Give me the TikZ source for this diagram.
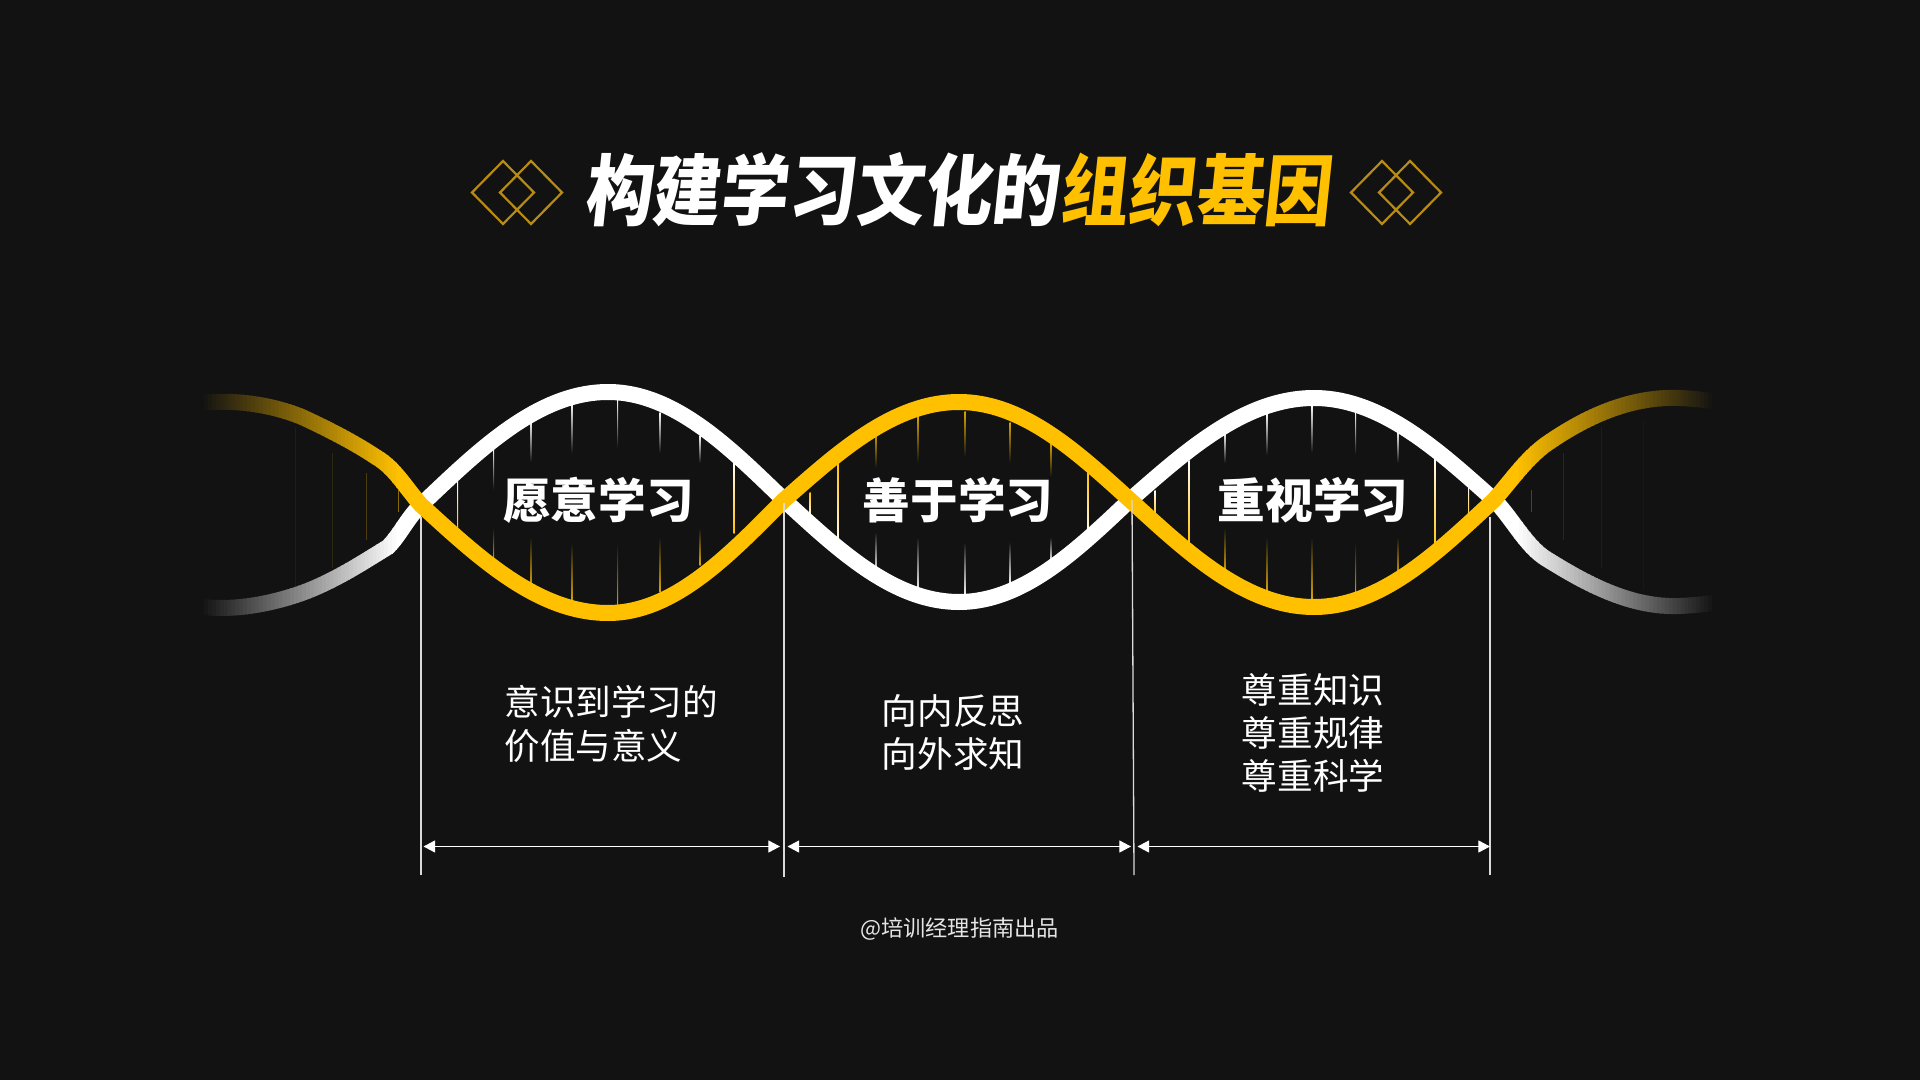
\documentclass[tikz,border=0pt]{standalone}
\usepackage{fontspec}
\usetikzlibrary{arrows.meta}
\newfontfamily\cjk{Noto Sans CJK SC}
\newfontfamily\cjkslant{Noto Sans CJK SC}[FakeSlant=0.12]
\definecolor{bg}{HTML}{121212}
\definecolor{gold}{HTML}{FFC000}
\definecolor{darkgold}{HTML}{B88C14}
\definecolor{rulegrey}{HTML}{DADADA}
\tikzset{
  strand/.style={line width=8pt,line join=round},
  rulev/.style={draw=rulegrey,line width=0.65pt},
  span/.style={draw=white,line width=0.55pt,{Triangle[length=5.8pt,width=6pt]}-{Triangle[length=5.8pt,width=6pt]}},
  lozenge/.style={draw=darkgold,line width=1.1pt},
  headlabel/.style={text=white,font=\cjk\bfseries\fontsize{23.8pt}{28pt}\selectfont,inner sep=0pt},
  bodylabel/.style={text=white,font=\cjk\fontsize{17.8pt}{21.6pt}\selectfont,inner sep=0pt},
  footlabel/.style={text=white!90!black,font=\cjk\fontsize{11.1pt}{13pt}\selectfont,inner sep=0pt},
  titlelabel/.style={font=\cjkslant\bfseries\fontsize{33.9pt}{40pt}\selectfont,inner sep=0pt,yscale=1.14},
}
\newcommand{\whitecurve}{(190,605) .. controls (225,612) and (265,606) .. (302,593) .. controls (335,581) and (365,561) .. (388,547) .. controls (400,535) and (408,517) .. (421,505)
  .. controls (477,452) and (537,392) .. (608,392) .. controls (675,392) and (731,449) .. (784,500)
  .. controls (836.5,548) and (892.5,602) .. (959,602) .. controls (1024,602) and (1079,548) .. (1130,500)
  .. controls (1185,452) and (1244,398) .. (1314,398) .. controls (1382,398) and (1440,452) .. (1494,500)
  .. controls (1510,515) and (1525,545) .. (1545,558) .. controls (1585,583) and (1630,608) .. (1680,606)
  .. controls (1700,605) and (1715,603) .. (1725,600)}
\newcommand{\yellowcurve}{(190,404) .. controls (225,399) and (265,402) .. (302,417) .. controls (330,430) and (355,443) .. (376,457) .. controls (395,468) and (405,487) .. (421,505)
  .. controls (477,556) and (537,613) .. (608,613) .. controls (675,613) and (731,553) .. (784,500)
  .. controls (836.5,454) and (892.5,402) .. (959,402) .. controls (1024,402) and (1079,454) .. (1130,500)
  .. controls (1185,550) and (1244,607) .. (1314,607) .. controls (1382,607) and (1440,550) .. (1494,500)
  .. controls (1510,482) and (1525,460) .. (1545,445) .. controls (1585,417) and (1630,396) .. (1680,398)
  .. controls (1700,399) and (1715,401) .. (1725,404)}
% \fadebar{x}{y top}{y bottom}{top colour}{bottom colour}
\newcommand{\fadebar}[5]{\shade[top color=#4,bottom color=#5] (#1-0.5,#2) rectangle (#1+0.5,#3);}
\begin{document}
\begin{tikzpicture}[x=0.5pt,y=-0.5pt]
\useasboundingbox (0,0) rectangle (1920,1080);
\fill[bg] (0,0) rectangle (1920,1080);

% ---- rungs: white-topped humps
\foreach \x/\a/\b/\c/\d in {
  493.5/447/490/528/560, 531/420/462/537/587, 572/402/453/543/603, 617.5/399/448/543/607,
  660/412/453/537/592, 700/435/463/528/565,
  1225/432/463/528/573, 1267/413/455/537/593, 1312/405/453/537/600, 1355.5/412/455/542/595, 1398/430/463/537/577}{
  \fadebar{\x}{\a}{\b}{white}{bg}
  \fadebar{\x}{\c}{\d}{bg}{gold!85!bg}
}
\foreach \x/\a/\b in {457.5/478/528, 734/460/533, 1155/490/517, 1189/460/543, 1435/453/552, 1468.6/487/520}{
  \fadebar{\x}{\a}{\b}{white}{gold}
}
% ---- rungs: gold-topped hump
\foreach \x/\a/\b/\c/\d in {
  876/432/468/532/575, 918/415/463/537/592, 965/411/457/542/597, 1010/422/463/542/585, 1051/443/477/537/563}{
  \fadebar{\x}{\a}{\b}{gold!85!bg}{bg}
  \fadebar{\x}{\c}{\d}{bg}{white}
}
\foreach \x/\a/\b in {810/492/518, 838/460/547, 1088/472/535}{
  \fadebar{\x}{\a}{\b}{gold}{white}
}
% ---- faint rungs on the tails
\foreach \x/\a/\b/\p in {398/490/512/50, 366.5/473/540/25, 332/453/568/12, 295/427/587/6,
  1531/490/512/28, 1563/453/540/12, 1601/427/568/6, 1643/420/590/3}{
  \fill[gold!\p!bg] (\x-0.5,\a) rectangle (\x+0.5,\b);
}

% ---- white strand
\begin{scope}
  \clip (400,300) rectangle (1515,700);
  \draw[strand,white] \whitecurve;
\end{scope}
\foreach \i in {0,...,49}{
  \pgfmathsetmacro{\xa}{204+\i*3.92}
  \pgfmathsetmacro{\xb}{\xa+4.6}
  \pgfmathtruncatemacro{\p}{\i*2+2}
  \begin{scope}
    \clip (\xa,300) rectangle (\xb,700);
    \draw[strand,white!\p!bg] \whitecurve;
  \end{scope}
}
\foreach \i in {0,...,49}{
  \pgfmathsetmacro{\xb}{1712-\i*3.94}
  \pgfmathsetmacro{\xa}{\xb-4.6}
  \pgfmathtruncatemacro{\p}{\i*2+2}
  \begin{scope}
    \clip (\xa,300) rectangle (\xb,700);
    \draw[strand,white!\p!bg] \whitecurve;
  \end{scope}
}
% ---- yellow strand
\begin{scope}
  \clip (400,300) rectangle (1515,700);
  \draw[strand,gold] \yellowcurve;
\end{scope}
\foreach \i in {0,...,49}{
  \pgfmathsetmacro{\xa}{204+\i*3.92}
  \pgfmathsetmacro{\xb}{\xa+4.6}
  \pgfmathtruncatemacro{\p}{\i*2+2}
  \begin{scope}
    \clip (\xa,300) rectangle (\xb,700);
    \draw[strand,gold!\p!bg] \yellowcurve;
  \end{scope}
}
\foreach \i in {0,...,49}{
  \pgfmathsetmacro{\xb}{1712-\i*3.94}
  \pgfmathsetmacro{\xa}{\xb-4.6}
  \pgfmathtruncatemacro{\p}{\i*2+2}
  \begin{scope}
    \clip (\xa,300) rectangle (\xb,700);
    \draw[strand,gold!\p!bg] \yellowcurve;
  \end{scope}
}

% ---- title
\node[titlelabel,text=white,anchor=east] (tw) at (1059,190) {构建学习文化的};
\node[titlelabel,text=gold,anchor=west] (ty) at (1059,190) {组织基因};
\foreach \cx in {503,531,1382,1410}{
  \draw[lozenge] (\cx-31,192.5) -- (\cx,161) -- (\cx+31,192.5) -- (\cx,224) -- cycle;
}

% ---- hump labels
\node[headlabel] (h1) at (598.5,500) {愿意学习};
\node[headlabel] (h2) at (958,500) {善于学习};
\node[headlabel] (h3) at (1313,500) {重视学习};

% ---- descriptions
\node[bodylabel,align=left,anchor=west] (d1) at (504,724) {意识到学习的\\价值与意义};
\node[bodylabel,align=left] (d2) at (953,732.5) {向内反思\\向外求知};
\node[bodylabel,align=center] (d3) at (1313,733) {尊重知识\\尊重规律\\尊重科学};

% ---- guide lines and spans
\coordinate (g1a) at (421,517); \coordinate (g1b) at (421,875);
\coordinate (g2a) at (784,503); \coordinate (g2b) at (784,877);
\coordinate (g3a) at (1132,500); \coordinate (g3b) at (1134,875);
\coordinate (g4a) at (1490,517); \coordinate (g4b) at (1490,875);
\draw[rulev] (g1a) -- (g1b);
\draw[rulev] (g2a) -- (g2b);
\draw[rulev] (g3a) -- (g3b);
\draw[rulev] (g4a) -- (g4b);
\coordinate (s1) at (423.5,846.5); \coordinate (s2) at (780,846.5);
\coordinate (s3) at (787.5,846.5); \coordinate (s4) at (1131,846.5);
\coordinate (s5) at (1137.5,846.5); \coordinate (s6) at (1490,846.5);
\draw[span] (s1) -- (s2);
\draw[span] (s3) -- (s4);
\draw[span] (s5) -- (s6);

% ---- footer
\node[footlabel] (foot) at (959.5,929) {@培训经理指南出品};
\end{tikzpicture}
\end{document}
